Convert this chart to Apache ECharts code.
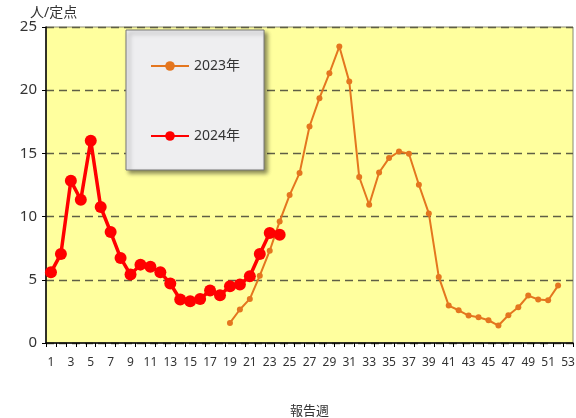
<!DOCTYPE html>
<html>
<head>
<meta charset="utf-8">
<script src="https://cdn.jsdelivr.net/npm/echarts@6/dist/echarts.min.js"></script>
<style>
html,body{margin:0;padding:0;background:#fff;}
#main{width:576px;height:418px;}
</style>
</head>
<body>
<div id="main"></div>
<script>
// 報告週 1..53
var weeks = [];
for (var w = 1; w <= 53; w++) weeks.push(String(w));

// 2023年: 19週〜52週
var val2023 = [
	null, null, null, null, null, null, null, null, null, null,
	null, null, null, null, null, null, null, null,
	1.59, 2.65, 3.49, 5.33, 7.3, 9.62, 11.7, 13.44, 17.13, 19.37,
	21.34, 23.45, 20.68, 13.13, 10.94, 13.49, 14.63, 15.15, 14.97, 12.52,
	10.25, 5.23, 2.96, 2.59, 2.17, 2.04, 1.8, 1.38, 2.2, 2.83,
	3.75, 3.44, 3.38, 4.54, null
];

// 2024年: 1週〜24週
var val2024 = [
	5.59, 7.05, 12.83, 11.33, 16.0, 10.76, 8.78, 6.73, 5.41, 6.2,
	6.03, 5.6, 4.7, 3.44, 3.3, 3.49, 4.15, 3.78, 4.49, 4.62,
	5.28, 7.04, 8.7, 8.57
];

var yTicks = [0, 5, 10, 15, 20, 25];

var font = "'Noto Sans', 'Noto Sans CJK JP', sans-serif";

var myChart = echarts.init(document.getElementById('main'));
var option = {
	animation: false,
	textStyle: { fontFamily: font },
	grid: {
		left: 46,
		right: 3,
		top: 27,
		bottom: 75,
		outerBoundsMode: 'none',
		show: true,
		backgroundColor: '#FFFF9E',
		borderColor: '#8a8a70',
		borderWidth: 1
	},
	legend: {
		orient: 'vertical',
		left: 126,
		top: 30,
		padding: [29, 24, 27, 24],
		itemGap: 56,
		itemWidth: 38,
		itemHeight: 12,
		backgroundColor: '#EEEEF0',
		borderColor: '#777',
		borderWidth: 1,
		shadowColor: 'rgba(0,0,0,0.45)',
		shadowBlur: 4,
		shadowOffsetX: 3,
		shadowOffsetY: 3,
		textStyle: { fontSize: 14, color: '#333', fontFamily: font },
		data: ['2023年', '2024年']
	},
	xAxis: {
		type: 'category',
		data: weeks,
		boundaryGap: true,
		name: '報告週',
		nameLocation: 'middle',
		nameGap: 62,
		nameTextStyle: { fontSize: 13, color: '#333' },
		axisLine: { lineStyle: { color: '#000', width: 1.5 } },
		axisTick: { show: true, interval: 0, length: 4, lineStyle: { color: '#000' } },
		axisLabel: { interval: 1, fontSize: 12, color: '#333', margin: 14 }
	},
	yAxis: {
		type: 'value',
		min: yTicks[0],
		max: yTicks[yTicks.length - 1],
		interval: 5,
		name: '人/定点',
		nameLocation: 'end',
		nameGap: 2,
		nameTextStyle: { fontSize: 14, color: '#333', align: 'left', padding: [0, 0, -7, -16] },
		axisLine: { show: true, lineStyle: { color: '#000', width: 1.5 } },
		axisTick: { show: true, length: 4, lineStyle: { color: '#000' } },
		axisLabel: { fontSize: 15, color: '#333', margin: 9 },
		splitLine: { lineStyle: { color: '#5f5f45', type: [8, 5], width: 1.3 } }
	},
	series: [
		{
			name: '2023年',
			type: 'line',
			data: val2023,
			symbol: 'circle',
			symbolSize: 6,
			showAllSymbol: true,
			connectNulls: false,
			lineStyle: { color: '#E4761F', width: 2 },
			itemStyle: { color: '#E4761F' },
			z: 2
		},
		{
			name: '2024年',
			type: 'line',
			data: val2024,
			symbol: 'circle',
			symbolSize: 12,
			showAllSymbol: true,
			lineStyle: { color: '#FF0000', width: 3.5 },
			itemStyle: { color: '#FF0000' },
			z: 3
		}
	]
};
myChart.setOption(option);
</script>
</body>
</html>
